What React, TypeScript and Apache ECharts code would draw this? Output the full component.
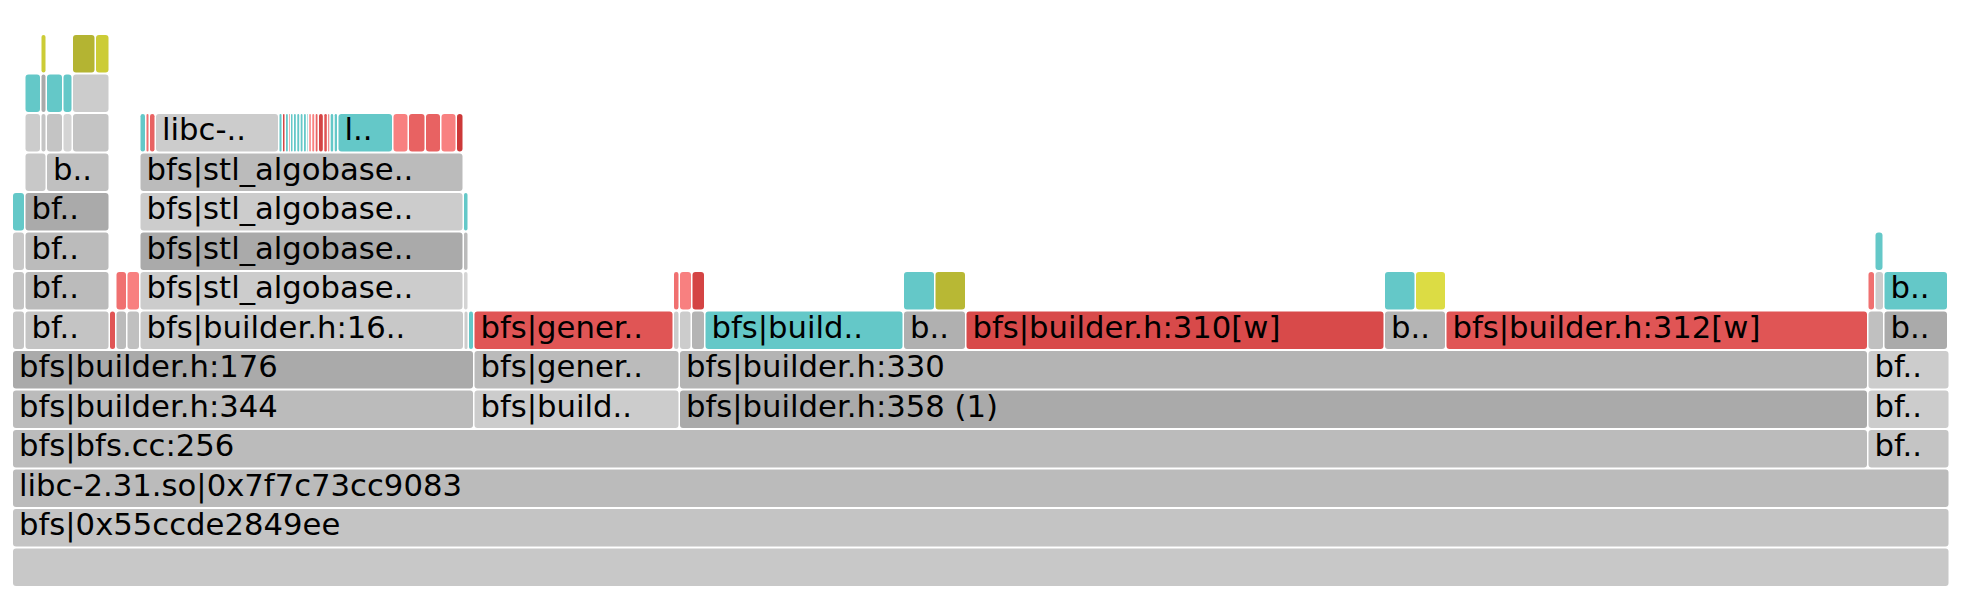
import React, { useEffect, useRef } from "react";
import * as echarts from "echarts";

// Flame graph frames, per stack depth: [startSample, endSample, label, tone]
type Frame = [number, number, string, string];

const TOTAL_SAMPLES = 1937;
const MAX_LEVEL = 13;

const level0: Frame[] = [[0, 1937, "", "g3"]];
const level1: Frame[] = [[0, 1937, "bfs|0x55ccde2849ee", "g4"]];
const level2: Frame[] = [[0, 1937, "libc-2.31.so|0x7f7c73cc9083", "g6"]];
const level3: Frame[] = [
  [0, 1855.5, "bfs|bfs.cc:256", "g6"],
  [1855.5, 1937, "bf..", "g4"],
];
const level4: Frame[] = [
  [0, 461.5, "bfs|builder.h:344", "g6"],
  [461.5, 667, "bfs|build..", "g2"],
  [667, 1855.5, "bfs|builder.h:358 (1)", "g9"],
  [1855.5, 1937, "bf..", "g2"],
];
const level5: Frame[] = [
  [0, 461.5, "bfs|builder.h:176", "g9"],
  [461.5, 667, "bfs|gener..", "g6"],
  [667, 1855.5, "bfs|builder.h:330", "g7"],
  [1855.5, 1937, "bf..", "g2"],
];
const level6: Frame[] = [
  [0, 12.5, "", "g4"],
  [12.5, 97, "bf..", "g4"],
  [97, 103.5, "", "r4"],
  [103.5, 114.5, "", "g6"],
  [114.5, 127.5, "", "g5"],
  [127.5, 451.5, "bfs|builder.h:16..", "g3"],
  [451.5, 456, "", "g2"],
  [456, 461.5, "", "cyan"],
  [461.5, 661, "bfs|gener..", "r4"],
  [661, 667, "", "g2"],
  [667, 679, "", "g2"],
  [679, 692.5, "", "g7"],
  [692.5, 891, "bfs|build..", "cyan"],
  [891, 953.5, "b..", "g8"],
  [953.5, 1372, "bfs|builder.h:310[w]", "r5"],
  [1372, 1433.5, "b..", "g7"],
  [1433.5, 1855.5, "bfs|builder.h:312[w]", "r4"],
  [1855.5, 1871.5, "", "g5"],
  [1871.5, 1935.5, "b..", "g9"],
];
const level7: Frame[] = [
  [0, 12.5, "", "g4"],
  [12.5, 97, "bf..", "g6"],
  [103.5, 114.5, "", "r2"],
  [114.5, 127.5, "", "r1"],
  [127.5, 451, "bfs|stl_algobase..", "g2"],
  [451, 456, "", "l1"],
  [661, 667, "", "r2"],
  [667, 679.5, "", "r1"],
  [679.5, 692.5, "", "r6"],
  [891, 922.5, "", "cyan"],
  [922.5, 953.5, "", "olive"],
  [1372, 1403, "", "cyan"],
  [1403, 1433.5, "", "yellow2"],
  [1855.5, 1862.5, "", "r2"],
  [1862.5, 1871.5, "", "g2"],
  [1871.5, 1935.5, "b..", "cyan"],
];
const level8: Frame[] = [
  [0, 12.5, "", "g3"],
  [12.5, 97, "bf..", "g6"],
  [127.5, 451, "bfs|stl_algobase..", "g9"],
  [451, 456, "", "g6"],
  [1862.5, 1871, "", "cyan"],
];
const level9: Frame[] = [
  [0, 12.5, "", "cyan"],
  [12.5, 97, "bf..", "g9"],
  [127.5, 451, "bfs|stl_algobase..", "g2"],
  [451, 456, "", "cyan"],
];
const level10: Frame[] = [
  [12.5, 34, "", "g3"],
  [34, 97, "b..", "g5"],
  [127.5, 451, "bfs|stl_algobase..", "g6"],
];
const level11: Frame[] = [
  [12.5, 28.5, "", "g2"],
  [28.5, 34, "", "g4"],
  [34, 50.5, "", "g4"],
  [50.5, 60, "", "l1"],
  [60, 97, "", "g4"],
  [127.5, 133.5, "", "cyan"],
  [133.5, 137, "", "r2"],
  [137, 143, "", "r3"],
  [143, 266.5, "libc-..", "g2"],
  [266.5, 270, "", "cyan"],
  [270, 273, "", "r6"],
  [273, 276.3, "", "cyan"],
  [276.3, 278, "", "r3"],
  [278, 281, "", "cyan"],
  [281, 284.3, "", "cyan"],
  [284.3, 287.7, "", "cyan"],
  [287.7, 291, "", "cyan"],
  [291, 294.3, "", "cyan"],
  [294.3, 296.3, "", "cyan"],
  [296.3, 299.3, "", "r1"],
  [299.3, 302.7, "", "r1"],
  [302.7, 306, "", "r3"],
  [306, 311.3, "", "r6"],
  [311.3, 315.3, "", "r4"],
  [315.3, 317.7, "", "r3"],
  [317.7, 321.7, "", "cyan"],
  [321.7, 325.5, "", "cyan"],
  [325.5, 380.5, "l..", "cyan"],
  [380.5, 396, "", "r1"],
  [396, 413, "", "r3"],
  [413, 428.5, "", "r3"],
  [428.5, 444, "", "r1"],
  [444, 451, "", "r7"],
];
const level12: Frame[] = [
  [12.5, 28.5, "", "cyan"],
  [28.5, 34, "", "g9"],
  [34, 50.5, "", "cyan"],
  [50.5, 60, "", "cyan"],
  [60, 97, "", "g2"],
];
const level13: Frame[] = [
  [28.5, 34, "", "yellow1"],
  [60, 83, "", "olive2"],
  [83, 97, "", "yellow1"],
];

const levels: Frame[][] = [
  level0, level1, level2, level3, level4, level5, level6,
  level7, level8, level9, level10, level11, level12, level13,
];

const palette: Record<string, string> = {
  l1: "#d4d4d4",
  g2: "#cccccc",
  g3: "#c8c8c8",
  g4: "#c4c4c4",
  g5: "#c0c0c0",
  g6: "#bbbbbb",
  g7: "#b4b4b4",
  g8: "#b0b0b0",
  g9: "#aaaaaa",
  cyan: "#64c8c8",
  r1: "#f88080",
  r2: "#f07070",
  r3: "#e86262",
  r4: "#e05555",
  r5: "#d84a4a",
  r6: "#d44444",
  r7: "#cc3838",
  olive: "#b8b834",
  olive2: "#b4b432",
  yellow1: "#cccc36",
  yellow2: "#dcdc44",
};

export default function App() {
  const ref = useRef<HTMLDivElement>(null);

  useEffect(() => {
    if (!ref.current) return;
    const chart = echarts.init(ref.current, undefined, { renderer: "svg" });

    const data: number[][] = [];
    const labels: string[] = [];
    const tones: string[] = [];
    levels.forEach((frames, level) => {
      frames.forEach(([s, e, label, tone]) => {
        data.push([level, s, e]);
        labels.push(label);
        tones.push(tone);
      });
    });

    const renderItem = (params: any, api: any) => {
      const i = params.dataIndex;
      const level = api.value(0);
      const p0 = api.coord([api.value(1), level + 0.5]);
      const p1 = api.coord([api.value(2), level - 0.5]);
      const width = Math.max(p1[0] - p0[0] - 1.5, 0.5);
      const height = p1[1] - p0[1] - 2;
      const el: any = {
        type: "rect",
        shape: { x: p0[0], y: p0[1], width, height, r: 3 },
        style: { fill: palette[tones[i]] },
      };
      if (labels[i]) {
        el.textConfig = { position: "insideLeft", distance: 6, offset: [0, -3] };
        el.textContent = {
          style: {
            text: labels[i],
            fontSize: 30.7,
            fontFamily: "Verdana, 'DejaVu Sans', sans-serif",
            fill: "#000",
          },
        };
      }
      return el;
    };

    chart.setOption({
      animation: false,
      grid: { left: 13, right: 11, top: 35, bottom: 19 },
      xAxis: { type: "value", min: 0, max: TOTAL_SAMPLES, show: false },
      yAxis: { type: "value", min: -0.5, max: MAX_LEVEL + 0.5, show: false },
      series: [
        {
          type: "custom",
          renderItem,
          encode: { x: [1, 2], y: 0 },
          data,
        },
      ],
    });

    return () => chart.dispose();
  }, []);

  return (
    <div
      ref={ref}
      style={{ position: "absolute", left: 0, top: 0, width: 1961, height: 607 }}
    />
  );
}
